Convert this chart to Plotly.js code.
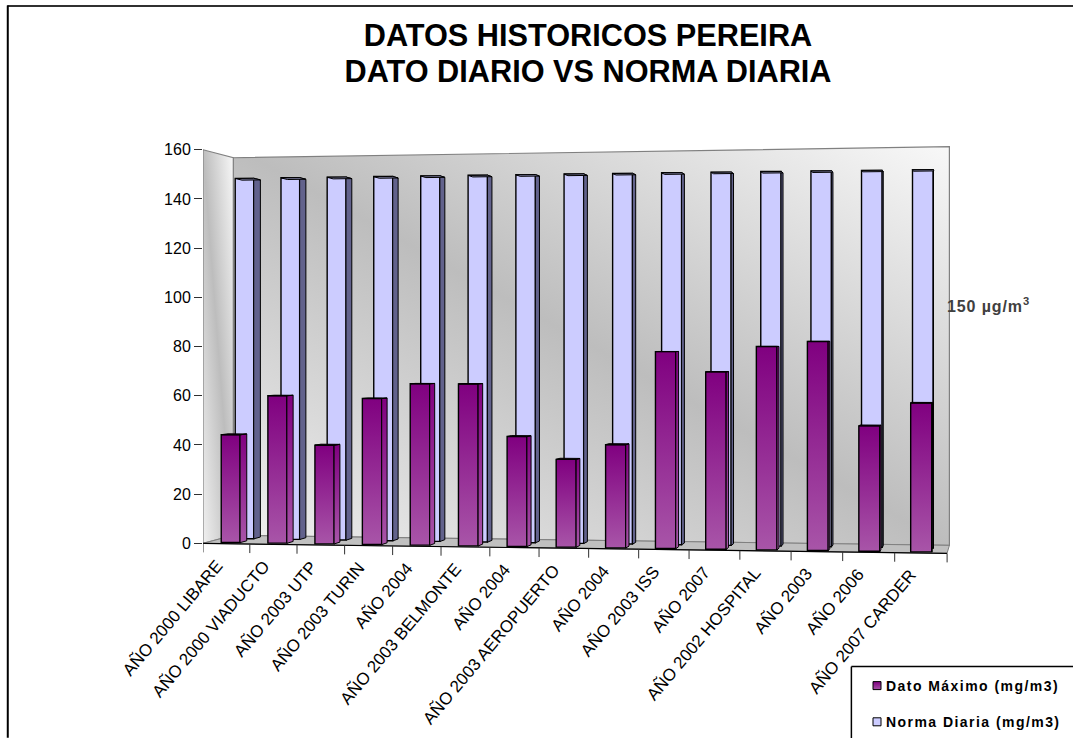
<!DOCTYPE html>
<html><head><meta charset="utf-8">
<script src="https://cdn.plot.ly/plotly-3.0.1.min.js"></script>
<style>html,body{margin:0;padding:0;background:#fff;overflow:hidden}</style>
</head><body><div id="chart" style="width:1073px;height:738px"></div>
<script>
const categories = ["AÑO 2000 LIBARE","AÑO 2000 VIADUCTO","AÑO 2003 UTP","AÑO 2003 TURIN","AÑO 2004","AÑO 2003 BELMONTE","AÑO 2004","AÑO 2003 AEROPUERTO","AÑO 2004","AÑO 2003 ISS","AÑO 2007","AÑO 2002 HOSPITAL","AÑO 2003","AÑO 2006","AÑO 2007 CARDER"];
const datoMaximo = [44,60,40,59,65,65,44,35,41,78,70,80,82,49,58];
const normaDiaria = [150,150,150,150,150,150,150,150,150,150,150,150,150,150,150];
const yTicks = [0,20,40,60,80,100,120,140,160];

// Page geometry
const W=1073,H=738, L=202.7, R=956.6, T=135.3, B=562.6;
const ux=49.593, uy=2.45625; // px per axis unit
const ax=px=>(px-L)/ux, ay=py=>(543-py)/uy;
const ppx=px=>(px-L)/(R-L), ppy=py=>(B-py)/(B-T);

// 3-D projection of the Excel chart: p along the categories, d into the depth
const xF=p=>202.7+46.6*p+0.2*p*p;
const xD=(p,d)=>xF(p)+d*(30.3-1.85*p);
const baseY=(p,d)=>{const f=543+10*p/15,b=535+10*p/15;return f+(b-f)*d;};
const scale=(p,d)=>{const f=2.456+0.124*p/15,b=2.356+0.1315*p/15;return f+(b-f)*d;};
const projY=(p,v,d)=>baseY(p,d)-v*scale(p,d);

const P0=0.295,P1=0.70, DATO=[0.15,0.38], NORM=[0.62,0.85];
function barTrace(vals,depth,name,color,rank){
  const xs=[],ws=[],hs=[],bs=[];
  vals.forEach((v,i)=>{
    const a=xD(i+P0,depth[0]),b=xD(i+P1,depth[0]);
    xs.push(ax((a+b)/2));ws.push((b-a)/ux);
    const pm=i+(P0+P1)/2;
    bs.push(ay(baseY(pm,depth[0])));hs.push(v*scale(pm,depth[0])/uy);
  });
  return {type:'bar',name,x:xs,y:hs,base:bs,width:ws,legendgroup:name,legendrank:rank,cliponaxis:false,
    marker:{color,line:{color:'#000',width:1.4}},hoverinfo:'skip'};
}
function faces(vals,depth,sideColor,topColor,w){
  const out=[];
  vals.forEach((v,i)=>{
    const p=i+P1,q=i+P0,d0=depth[0],d1=depth[1];
    const side=[[p,0,d0],[p,v,d0],[p,v,d1],[p,0,d1],[p,0,d0]];
    const top=[[q,v,d0],[q,v,d1],[p,v,d1],[p,v,d0],[q,v,d0]];
    [[side,sideColor],[top,topColor]].forEach(([pts,c])=>out.push({
      type:'scatter',mode:'lines',fill:'toself',fillcolor:c,showlegend:false,hoverinfo:'skip',
      line:{color:'#000',width:w},
      x:pts.map(a=>ax(xD(a[0],a[2]))),y:pts.map(a=>ay(projY(a[0],a[1],a[2])))
    }));
  });
  return out;
}
const SENT_DATO='rgb(128, 0, 129)',SENT_WALL='rgb(190, 190, 191)';
const data=[
  barTrace(normaDiaria,NORM,'Norma Diaria (mg/m3)','#CCCCFF',2),
  barTrace(datoMaximo,DATO,'Dato Máximo (mg/m3)',SENT_DATO,1),
  ...faces(normaDiaria,NORM,'#62628c','#8a8ab0',1),
  ...faces(datoMaximo,DATO,SENT_DATO,'#30002f',1)
];

const wallPath=pts=>'M'+pts.map(a=>ax(a[0])+','+ay(a[1])).join('L')+'Z';
const GRAY='#808080';
const shapes=[
  {type:'path',layer:'below',path:wallPath([[233,158],[949,147],[949,545],[233,535]]),fillcolor:SENT_WALL,line:{color:GRAY,width:1.2}},
  {type:'path',layer:'below',path:wallPath([[202.7,150],[233,158],[233,535],[202.7,543]]),fillcolor:SENT_WALL,line:{color:GRAY,width:1.2}},
  {type:'path',layer:'below',path:wallPath([[202.7,543],[233,535],[949,545],[946.6,553]]),fillcolor:'#c0c0c0',line:{color:GRAY,width:1}},
  {type:'line',layer:'above',x0:ax(202.7),x1:ax(946.6),y0:ay(543),y1:ay(553),line:{color:'#000',width:1.2}},
];
for(let i=0;i<=15;i++){
  const yy=baseY(i,0);
  shapes.push({type:'line',layer:'above',x0:ax(xF(i)),x1:ax(xF(i)),y0:ay(yy),y1:ay(yy+9),line:{color:'#303030',width:1}});
}
// page frame and legend box
const pl=(x0,y0,x1,y1,c,w)=>({type:'line',xref:'paper',yref:'paper',x0:ppx(x0),x1:ppx(x1),y0:ppy(y0),y1:ppy(y1),line:{color:c,width:w}});
shapes.push(pl(7,6.5,1073,6.5,'#303030',2),pl(7.5,6,7.5,737,'#000',2),pl(851,666,851,738,'#000',1.5),pl(851,666,1073,666,'#000',1.5));

const layout={
  width:W,height:H,paper_bgcolor:'#fff',plot_bgcolor:'rgba(0,0,0,0)',
  margin:{l:L,r:W-R,t:T,b:H-B,pad:0,autoexpand:false},
  font:{family:'"Liberation Sans",Arial,sans-serif',color:'#000'},
  barmode:'overlay',showlegend:true,
  title:{text:'DATOS HISTORICOS PEREIRA<br>DATO DIARIO VS NORMA DIARIA',font:{size:30.7,weight:700,color:'#000'},
    xref:'container',yref:'container',x:588/W,xanchor:'center',y:1-46/H,yanchor:'top'},
  xaxis:{range:[0,ax(R)],showgrid:false,zeroline:false,showline:false,ticks:'',
    tickmode:'array',tickvals:categories.map((c,i)=>ax(xF(i+0.3))),ticktext:categories,tickangle:-50,
    tickfont:{size:17,color:'#000'},automargin:false},
  yaxis:{range:[ay(B),ay(T)],showgrid:false,zeroline:false,showline:false,ticks:'outside',ticklen:8,tickcolor:'#303030',tickwidth:1,
    tickmode:'array',tickvals:yTicks,ticktext:yTicks.map(String),tickfont:{size:16,color:'#000'},automargin:false},
  legend:{xref:'container',yref:'container',x:846/W,y:1-670/H,xanchor:'left',yanchor:'top',bgcolor:'rgba(0,0,0,0)',borderwidth:0,
    traceorder:'grouped',tracegroupgap:15,font:{size:14,weight:700,color:'#000'}},
  annotations:[{xref:'paper',yref:'paper',x:ppx(949),y:ppy(305),xanchor:'left',yanchor:'middle',showarrow:false,
    text:'<b>150 µg/m<sup>3</sup></b>',font:{size:16,color:'#404040'}}],
  shapes
};

function addGrad(defs,id,x1,y1,x2,y2,stops){
  const g=document.createElementNS('http://www.w3.org/2000/svg','linearGradient');
  g.setAttribute('id',id);g.setAttribute('x1',x1);g.setAttribute('y1',y1);g.setAttribute('x2',x2);g.setAttribute('y2',y2);
  stops.forEach(s=>{const e=document.createElementNS('http://www.w3.org/2000/svg','stop');
    e.setAttribute('offset',s[0]);e.setAttribute('stop-color',s[1]);g.appendChild(e);});
  defs.appendChild(g);
}
Plotly.newPlot('chart',data,layout,{displayModeBar:false,staticPlot:true}).then(gd=>{
  const svg=gd.querySelector('.main-svg');
  const defs=svg.querySelector('defs');
  addGrad(defs,'gDato',0,0,0,1,[[0,'#800080'],[1,'#A855A8']]);
  addGrad(defs,'gWall',0,1,1,0,[[0,'#f0f0f0'],[0.5,'#bdbdbd'],[1,'#f8f8f8']]);
  gd.querySelectorAll('path').forEach(p=>{
    const f=p.style.fill;
    if(f===SENT_DATO)p.style.fill='url(#gDato)';
    else if(f===SENT_WALL)p.style.fill='url(#gWall)';
  });
  // tick labels follow the tilted front edge
  gd.querySelectorAll('.xtick text').forEach((t,i)=>{
    const dy=-12+10*(i+0.5)/15;
    t.setAttribute('transform','translate(0,'+dy+') '+(t.getAttribute('transform')||''));
  });
  // tighter title line spacing, as in the reference
  const lines=gd.querySelectorAll('.gtitle tspan.line');
  if(lines.length>1)lines[1].setAttribute('y',parseFloat(lines[1].getAttribute('y'))-4);
  const ann=gd.querySelector('.annotation-text');
  if(ann)ann.style.letterSpacing='0.9px';
  // small legend swatches placed next to the text, with spaced text
  const sb=gd.querySelector('.legend .scrollbox');
  if(sb)sb.removeAttribute('clip-path');
  gd.querySelectorAll('.legend').forEach(l=>l.removeAttribute('clip-path'));
  gd.querySelectorAll('.legend .traces').forEach(tr=>{
    tr.querySelectorAll('.legendpoints path, .legendbar path').forEach(p=>{
      p.setAttribute('d','M4,4H-4V-4H4Z');
      p.setAttribute('transform','translate(31,0)');
      p.style.strokeWidth='1px';p.style.stroke='#000';
    });
    const t=tr.querySelector('text');if(t)t.style.letterSpacing='1.45px';
  });
});
</script></body></html>
